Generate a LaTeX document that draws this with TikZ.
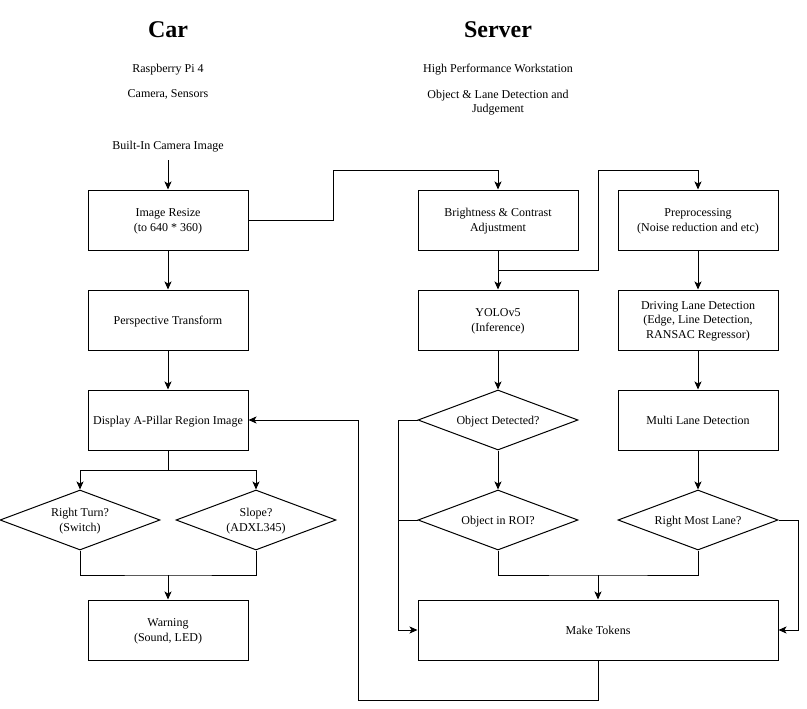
\documentclass[tikz,border=0pt]{standalone}
\usepackage{fontspec}
\setmainfont{Liberation Serif}
\usetikzlibrary{shapes.geometric,arrows.meta,calc}
\begin{document}
\begin{tikzpicture}[x=1pt,y=-1pt,line width=1pt,
  txt/.style={font=\fontsize{12}{14.5}\selectfont,align=center,inner sep=0pt,text depth=0pt},
  ttl/.style={font=\fontsize{24}{28}\selectfont\bfseries,inner sep=0pt,text depth=0pt},
  box/.style={txt,draw,minimum width=160pt,minimum height=60pt},
  dec/.style={txt,draw,diamond,aspect=2.67,minimum width=160pt,minimum height=60pt},
  arr/.style={-{Stealth[length=8pt,width=7pt,inset=2pt]}}]
\useasboundingbox (0,0) rectangle (807,709);

% headers
\node[ttl] (carT) at (168,30) {Car};
\node[txt] (carH1) at (168,68) {Raspberry Pi 4};
\node[txt] (carH2) at (168,94) {Camera, Sensors};
\node[ttl] (srvT) at (498,30) {Server};
\node[txt] (srvH1) at (498,68) {High Performance Workstation};
\node[txt] (srvH2) at (498,101.5) {Object \& Lane Detection and\\Judgement};

% car side
\node[txt] (cam) at (168,145) {Built-In Camera Image};
\node[box] (resize) at (168,220) {Image Resize\\(to 640 * 360)};
\node[box] (persp) at (168,320) {Perspective Transform};
\node[box] (disp) at (168,420) {Display A-Pillar Region Image};
\node[dec] (turn) at (80,520) {Right Turn?\\(Switch)};
\node[dec] (slope) at (256,520) {Slope?\\(ADXL345)};
\node[box] (warn) at (168,630) {Warning\\(Sound, LED)};

% server side
\node[box] (bright) at (498,220) {Brightness \& Contrast\\Adjustment};
\node[box] (yolo) at (498,320) {YOLOv5\\(Inference)};
\node[dec] (objdet) at (498,420) {Object Detected?};
\node[dec] (objroi) at (498,520) {Object in ROI?};
\node[box] (prep) at (698,220) {Preprocessing\\(Noise reduction and etc)};
\node[box] (drive) at (698,320) {Driving Lane Detection\\(Edge, Line Detection,\\RANSAC Regressor)};
\node[box] (multi) at (698,420) {Multi Lane Detection};
\node[dec] (rml) at (698,520) {Right Most Lane?};
\node[box,minimum width=360pt] (tokens) at (598,630) {Make Tokens};

% car connectors
\draw[arr] ([yshift=-10.5pt]cam.south) -- (resize.north);
\draw[arr] (resize) -- (persp);
\draw[arr] (persp) -- (disp);
\coordinate (split) at (168,470);
\draw[arr] (disp.south) -- (split) -| (turn.north);
\draw[arr] (split) -| (slope.north);
\coordinate (join) at (168,575);
\draw (turn.south) |- (join) -| (slope.south);
\draw[arr] (join) -- (warn.north);

% car to server
\draw[arr] (resize.east) -- (333,220) -- (333,170) -| (bright.north);

% object branch
\coordinate (fork) at (498,270);
\draw[arr] (bright.south) -- (yolo.north);
\draw[arr] (fork) -| (598,170) -| (prep.north);
\draw[arr] (yolo) -- (objdet);
\draw[arr] (objdet) -- (objroi);
\draw[arr] (objdet.west) -- (398,420) |- (tokens.west);
\draw (objroi.west) -- (398,520);

% lane branch
\draw[arr] (prep) -- (drive);
\draw[arr] (drive) -- (multi);
\draw[arr] (multi) -- (rml);
\draw[arr] (rml.east) -- (798,520) |- (tokens.east);

% merge into tokens
\coordinate (merge) at (598,575);
\draw (objroi.south) |- (merge) -| (rml.south);
\draw[arr] (merge) -- (tokens.north);

% feedback to display
\draw[arr] (tokens.south) -- (598,700) -| (358,420) -- (disp.east);
\end{tikzpicture}
\end{document}
